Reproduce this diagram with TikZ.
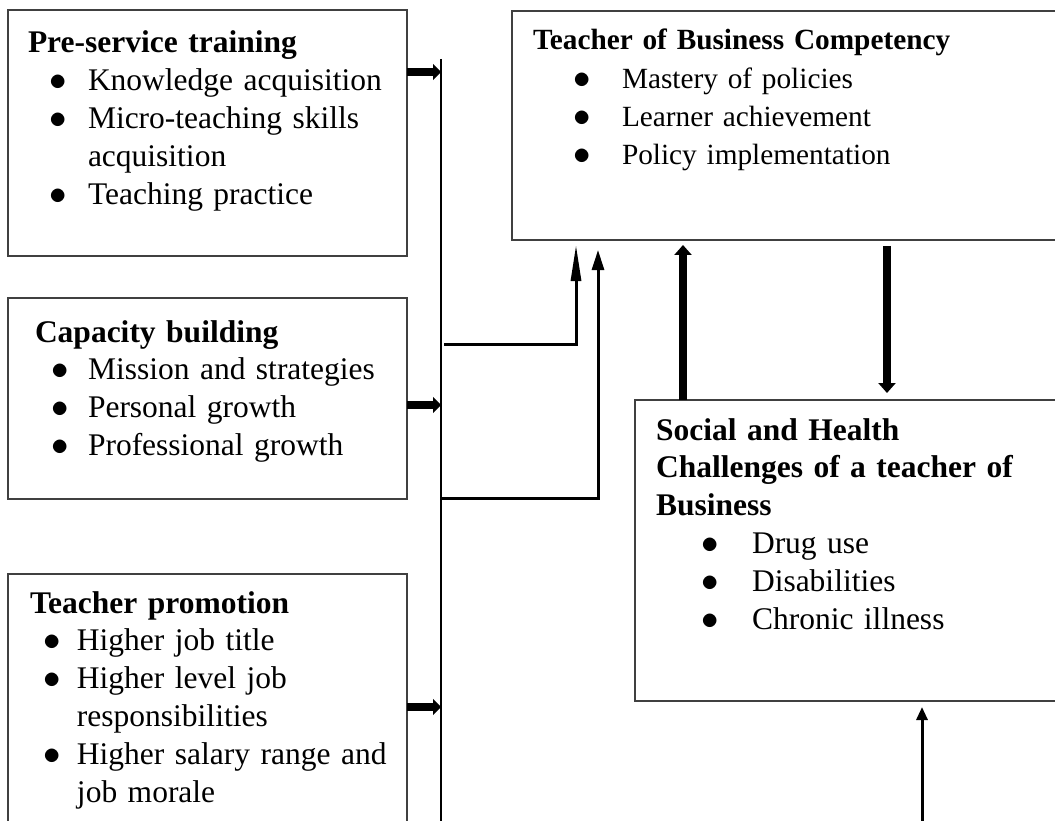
\documentclass[tikz,border=0pt]{standalone}
\usepackage{fontspec}
\setmainfont{Liberation Serif}
\usetikzlibrary{arrows.meta}
\newcommand{\bul}[2]{\hspace*{#1}\makebox[0pt]{\scalebox{1.4}{$\bullet$}}\hspace*{#2}}

\begin{document}
\begin{tikzpicture}[x=1pt, y=-1pt, every node/.style={rectangle, inner sep=0pt, outer sep=0pt},
	box/.style={draw=black!75, line width=1.3pt, anchor=north west},
	txt/.style={anchor=base west, text width=520pt, align=left, font=\fontsize{31.5}{37.8}\selectfont},
	push/.style={line width=8pt, -{Triangle[length=8pt,width=16pt]}},
	lift/.style={line width=8pt, -{Triangle[length=10pt,width=17pt]}},
	feed/.style={line width=3pt}]
	\useasboundingbox (0,0) rectangle (1055,821);
	% boxes
	\node[box, minimum width=399pt, minimum height=246pt] (preservice) at (8,10) {};
	\node[box, minimum width=399pt, minimum height=201pt] (capacity) at (8,298) {};
	\node[box, minimum width=399pt, minimum height=270pt] (promotion) at (8,574) {};
	\node[box, minimum width=560pt, minimum height=229pt] (competency) at (512,11) {};
	\node[box, minimum width=440pt, minimum height=301pt] (challenges) at (635,400) {};
	% texts
	\node[txt] (preserviceText) at (28,53) {\textbf{Pre-service training}\\
		\bul{30pt}{30pt}Knowledge acquisition\\
		\bul{30pt}{30pt}Micro-teaching skills\\
		\hspace*{60pt}acquisition\\
		\bul{30pt}{30pt}Teaching practice};
	\node[txt] (capacityText) at (35,342) {\textbf{Capacity building}\\
		\bul{25pt}{28pt}Mission and strategies\\
		\bul{25pt}{28pt}Personal growth\\
		\bul{25pt}{28pt}Professional growth};
	\node[txt] (promotionText) at (30,613) {\textbf{Teacher promotion}\\
		\bul{22pt}{25pt}Higher job title\\
		\bul{22pt}{25pt}Higher level job\\
		\hspace*{47pt}responsibilities\\
		\bul{22pt}{25pt}Higher salary range and\\
		\hspace*{47pt}job morale};
	\node[txt, font=\fontsize{29.3}{38.3}\selectfont] (competencyText) at (533,50) {\textbf{Teacher of Business Competency}\\
		\bul{49pt}{40pt}Mastery of policies\\
		\bul{49pt}{40pt}Learner achievement\\
		\bul{49pt}{40pt}Policy implementation};
	\node[txt] (challengesText) at (656,440) {\textbf{Social and Health}\\
		\textbf{Challenges of a teacher of}\\
		\textbf{Business}\\
		\bul{54pt}{42pt}Drug use\\
		\bul{54pt}{42pt}Disabilities\\
		\bul{54pt}{42pt}Chronic illness};
	% bus line
	\coordinate (busTop) at (441,59);
	\coordinate (busBot) at (441,830);
	\draw[line width=1.5pt] (busTop) -- (busBot);
	\coordinate (preserviceOut) at ([yshift=-62pt]preservice.north east);
	\coordinate (capacityOut) at ([yshift=-107pt]capacity.north east);
	\coordinate (promotionOut) at ([yshift=-133pt]promotion.north east);
	\draw[push] (preserviceOut) -- (preserviceOut -| busTop);
	\draw[push] (capacityOut) -- (capacityOut -| busTop);
	\draw[push] (promotionOut) -- (promotionOut -| busTop);
	% bus to competency
	\coordinate (busA) at (444,344);
	\coordinate (busB) at (442,498);
	\draw[feed, -{Triangle[length=36pt,width=10pt]}, shorten >=5pt] (busA) -| ([xshift=64pt]competency.south west);
	\draw[feed, -{Triangle[length=20pt,width=12pt]}, shorten >=10pt] (busB) -| ([xshift=86pt]competency.south west);
	% competency and challenges
	\coordinate (liftFoot) at ([xshift=48pt]challenges.north west);
	\coordinate (dropHead) at ([xshift=375pt]competency.south west);
	\draw[lift, shorten >=5pt] (liftFoot) -- (liftFoot |- competency.south);
	\draw[lift, shorten <=6pt, shorten >=7pt] (dropHead) -- (dropHead |- challenges.north);
	\coordinate (riseFoot) at (922,830);
	\draw[feed, -{Triangle[length=13pt,width=11pt]}, shorten >=6pt] (riseFoot) -- (riseFoot |- challenges.south);
\end{tikzpicture}
\end{document}
